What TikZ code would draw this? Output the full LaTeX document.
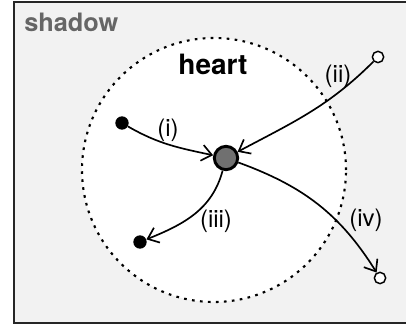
\documentclass[tikz,border=0pt]{standalone}
\usepackage{fontspec}
\setmainfont{TeX Gyre Heros}
\usetikzlibrary{arrows.meta}
\definecolor{shadowfill}{HTML}{F2F2F2}
\definecolor{shadowtext}{HTML}{666666}
\definecolor{hubfill}{HTML}{707070}
\tikzset{
  box/.style={draw=black!85, line width=1.5pt, fill=shadowfill},
  heartcirc/.style={draw=black, fill=white, line width=1.6pt, dash pattern=on 2pt off 4pt},
  hub/.style={circle, draw=black, fill=hubfill, line width=2.2pt, minimum size=17.5pt, inner sep=0pt},
  solidpt/.style={circle, fill=black, minimum size=10pt, inner sep=0pt},
  openpt/.style={circle, draw=black, fill=white, line width=1.1pt, minimum size=8.5pt, inner sep=0pt},
  flow/.style={line width=1.25pt, -{Straight Barb[length=7.5pt,width=12pt,line width=1.25pt]}},
  lbl/.style={font=\fontsize{18}{18}\selectfont, inner sep=0pt},
}
\begin{document}
\begin{tikzpicture}[x=0.75pt,y=0.75pt]
\useasboundingbox (0,0) rectangle (406,327);
\clip (0,0) rectangle (406,327);
\draw[box] (14,4) rectangle (412,325);
\node[anchor=west, text=shadowtext, font=\fontsize{19}{19}\selectfont\bfseries, inner sep=0pt] (shadowlbl) at (24,305) {shadow};
\draw[heartcirc] (214,157) circle [radius=132];
\node[font=\fontsize{21}{21}\selectfont\bfseries, inner sep=0pt] (heartlbl) at (213,263) {heart};
\node[hub] (c) at (226,169) {};
\node[solidpt] (i) at (122,204) {};
\node[solidpt] (iii) at (140,85) {};
\node[openpt] (ii) at (378,270) {};
\node[openpt] (iv) at (380,49) {};
\draw[flow] (i) to[out=-30,in=168] (c);
\draw[flow] (ii) to[out=225,in=28] (c);
\draw[flow] (c) to[out=255,in=22] (iii);
\draw[flow] (c) to[out=-20,in=122] (iv);
\node[lbl] (li) at (168,197) {(i)};
\node[lbl] (lii) at (338,251) {(ii)};
\node[lbl] (liii) at (216,106) {(iii)};
\node[lbl] (liv) at (366,107) {(iv)};
\end{tikzpicture}
\end{document}
